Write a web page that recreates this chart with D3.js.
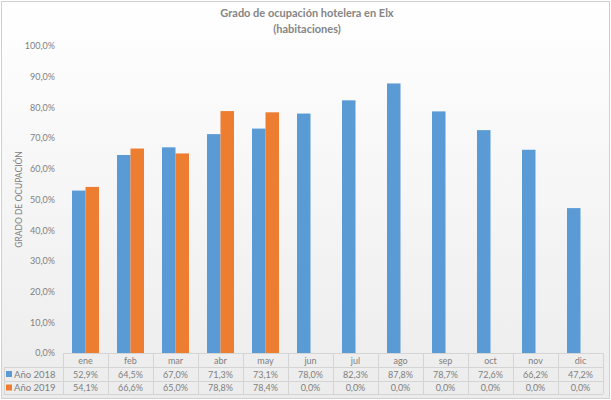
<!DOCTYPE html>
<html><head><meta charset="utf-8">
<script src="https://cdn.jsdelivr.net/npm/d3@7"></script>
<style>body{margin:0;background:#fff}svg{display:block;font-family:Lato,"Open Sans",sans-serif}</style>
</head><body><svg id="c" width="611" height="400"></svg>
<script>
const months = ["ene","feb","mar","abr","may","jun","jul","ago","sep","oct","nov","dic"];
const v2018 = [52.9,64.5,67.0,71.3,73.1,78.0,82.3,87.8,78.7,72.6,66.2,47.2];
const v2019 = [54.1,66.6,65.0,78.8,78.4,0,0,0,0,0,0,0];
const yTicks = [0,10,20,30,40,50,60,70,80,90,100];
const seriesNames = ["Año 2018","Año 2019"];
const colors = ["#5B9BD5","#ED7D31"];
const title1 = "Grado de ocupación hotelera en Elx";
const title2 = "(habitaciones)";
const yTitle = "GRADO DE OCUPACIÓN";

(function(){
const svg = d3.select("#c");
const W = 611, H = 400;
const defs = svg.append("defs");
const g = defs.append("linearGradient").attr("id","bg").attr("x1",0).attr("y1",0).attr("x2",0).attr("y2",1);
g.append("stop").attr("offset","0%").attr("stop-color","#ffffff");
g.append("stop").attr("offset","100%").attr("stop-color","#ececec");
svg.append("rect").attr("x",1.5).attr("y",1.5).attr("width",W-3).attr("height",H-3)
  .attr("fill","url(#bg)").attr("stroke","#d0d0d0");

const pL = 63, pR = 603, pT = 46, pB = 353;
const x = d3.scaleBand().domain(months).range([pL,pR]).paddingInner(0).paddingOuter(0);
const y = d3.scaleLinear().domain([0,100]).range([pB,pT]);
const x1 = d3.scaleBand().domain([0,1]).range([0,x.bandwidth()]).paddingInner(0).paddingOuter(0.667);

const fmt = v => d3.format(".1f")(v).replace(".",",") + "%";
const txt = "#7f7f7f";

svg.append("text").attr("x",307).attr("y",17).attr("text-anchor","middle")
  .attr("font-size",11).attr("font-weight","bold").attr("fill","#858585").text(title1);
svg.append("text").attr("x",307).attr("y",33).attr("text-anchor","middle")
  .attr("font-size",11).attr("font-weight","bold").attr("fill","#858585").text(title2);

const ya = svg.append("g").attr("transform",`translate(${pL-8},0)`)
  .call(d3.axisLeft(y).tickValues(yTicks).tickSize(0).tickPadding(0).tickFormat(fmt));
ya.select(".domain").remove();
ya.selectAll("text").attr("font-size",9).attr("fill",txt).attr("font-family","Lato,'Open Sans',sans-serif");

svg.append("text").attr("transform",`translate(22,${(pT+pB)/2}) rotate(-90)`)
  .attr("text-anchor","middle").attr("font-size",8.5).attr("fill",txt).text(yTitle);

const series = [v2018, v2019];
series.forEach((vals,si) => {
  svg.append("g").selectAll("rect").data(months.map((m,i)=>({m,v:vals[i]})).filter(d=>d.v>0))
    .join("rect")
    .attr("x",d=>x(d.m)+x1(si)).attr("width",x1.bandwidth())
    .attr("y",d=>y(d.v)).attr("height",d=>y(0)-y(d.v))
    .attr("fill",colors[si]);
});

const rowH = [pB, 367.5, 381, 394];
const line = (a,b,c,d) => svg.append("line").attr("x1",a).attr("y1",b).attr("x2",c).attr("y2",d)
  .attr("stroke","#d4d4d4").attr("stroke-width",1).attr("shape-rendering","crispEdges");
line(pL,rowH[0],pR,rowH[0]);
line(4,rowH[1],pR,rowH[1]);
line(4,rowH[2],pR,rowH[2]);
line(4,rowH[3],pR,rowH[3]);
line(4,rowH[1],4,rowH[3]);
months.forEach(m=>line(x(m),rowH[0],x(m),rowH[3]));
line(pR,rowH[0],pR,rowH[3]);

svg.append("g").selectAll("text").data(months).join("text")
  .attr("x",d=>x(d)+x.bandwidth()/2).attr("y",rowH[1]-4).attr("text-anchor","middle")
  .attr("font-size",9).attr("fill",txt).text(d=>d);

series.forEach((vals,si)=>{
  const yy = rowH[si+1];
  svg.append("g").selectAll("text").data(vals).join("text")
    .attr("x",(d,i)=>x(months[i])+x.bandwidth()/2).attr("y",yy+10).attr("text-anchor","middle")
    .attr("font-size",9).attr("fill",txt).text(d=>fmt(d));
  svg.append("rect").attr("x",6).attr("y",yy+3.5).attr("width",6).attr("height",6).attr("fill",colors[si]);
  svg.append("text").attr("x",14).attr("y",yy+10).attr("font-size",9.5).attr("fill",txt).text(seriesNames[si]);
});
})();
</script></body></html>
